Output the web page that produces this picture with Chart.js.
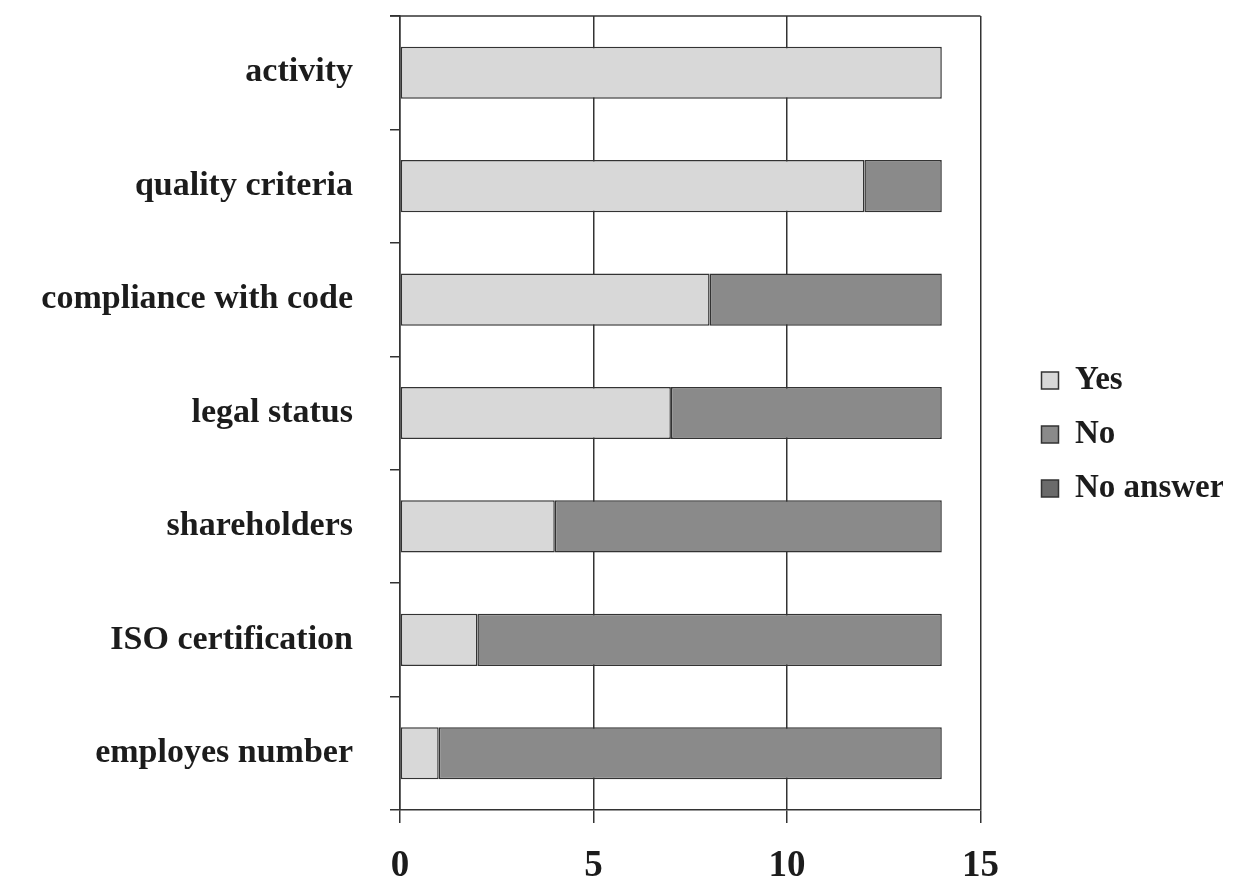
<!DOCTYPE html>
<html>
<head>
<meta charset="utf-8">
<title>Information disclosed</title>
<script src="https://cdn.jsdelivr.net/npm/chart.js@4.4.1/dist/chart.umd.min.js"></script>
<style>
    html, body { margin: 0; padding: 0; background: #ffffff; }
    #wrap { width: 1253px; height: 891px; }
</style>
</head>
<body>
<div id="wrap"><canvas id="chart" width="1253" height="891"></canvas></div>
<script>
// chart data
const categories = ['activity', 'quality criteria', 'compliance with code', 'legal status',
    'shareholders', 'ISO certification', 'employes number'];
const yesValues = [14, 12, 8, 7, 4, 2, 1];
const noValues = [0, 2, 6, 7, 10, 12, 13];
const noAnswerValues = [0, 0, 0, 0, 0, 0, 0];
const xTicks = [0, 5, 10, 15];

const serif = "'Liberation Serif', 'Times New Roman', serif";
const ink = '#1c1c1c';

// box line along the top of the plot area
const topBorder = {
    id: 'topBorder',
    afterDraw(chart) {
        const a = chart.chartArea;
        const ctx = chart.ctx;
        ctx.save();
        ctx.strokeStyle = '#333333';
        ctx.lineWidth = 1.5;
        ctx.beginPath();
        ctx.moveTo(a.left - 10, a.top);
        ctx.lineTo(a.right, a.top);
        ctx.stroke();
        ctx.restore();
    }
};

// legend sits a little above the middle of the canvas
const liftLegend = {
    id: 'liftLegend',
    afterLayout(chart) {
        if (chart.legend) {
            chart.legend.top -= 11;
            chart.legend.bottom -= 11;
        }
    }
};

document.addEventListener('DOMContentLoaded', function() {
    const ctx = document.getElementById('chart');

    new Chart(ctx, {
        type: 'bar',
        data: {
            labels: categories,
            datasets: [
                { label: 'Yes', data: yesValues, backgroundColor: '#d8d8d8' },
                { label: 'No', data: noValues, backgroundColor: '#8a8a8a' },
                { label: 'No answer', data: noAnswerValues, backgroundColor: '#6a6a6a' }
            ]
        },
        options: {
            indexAxis: 'y',
            responsive: false,
            animation: false,
            barPercentage: 0.46,
            categoryPercentage: 1,
            datasets: {
                bar: { borderColor: '#333333', borderWidth: 1.5, borderSkipped: false }
            },
            layout: { padding: { top: 0, right: 30, bottom: 0, left: 8 } },
            scales: {
                x: {
                    stacked: true,
                    min: 0,
                    max: 15,
                    afterBuildTicks: function(scale) {
                        scale.ticks = xTicks.map(v => ({ value: v }));
                    },
                    grid: {
                        color: '#333333',
                        lineWidth: 1.5,
                        tickLength: 13,
                        tickColor: '#333333'
                    },
                    border: { display: true, color: '#333333', width: 1.5 },
                    ticks: {
                        color: ink,
                        padding: 25,
                        font: { family: serif, size: 37, weight: 'bold', lineHeight: 1 }
                    },
                    afterFit: function(scale) { scale.height = 81; }
                },
                y: {
                    stacked: true,
                    grid: {
                        offset: true,
                        drawOnChartArea: false,
                        tickLength: 10,
                        tickColor: '#333333',
                        lineWidth: 1.5
                    },
                    border: { display: true, color: '#333333', width: 1.5 },
                    ticks: {
                        color: ink,
                        padding: 37,
                        font: { family: serif, size: 34, weight: 'bold' }
                    },
                    afterFit: function(scale) {
                        scale.width = 392;
                        scale.paddingTop = 16;
                        scale.paddingBottom = 0;
                    }
                },
                // empty spacer between plot and legend
                gap: {
                    type: 'category',
                    position: 'right',
                    grid: { display: false },
                    border: { display: false },
                    ticks: { display: false },
                    afterFit: function(scale) { scale.width = 40; }
                }
            },
            plugins: {
                legend: {
                    position: 'right',
                    labels: {
                        color: ink,
                        boxWidth: 17,
                        boxHeight: 17,
                        padding: 21,
                        font: { family: serif, size: 33, weight: 'bold' }
                    }
                },
                tooltip: { enabled: false }
            }
        },
        plugins: [topBorder, liftLegend]
    });
});
</script>
</body>
</html>
